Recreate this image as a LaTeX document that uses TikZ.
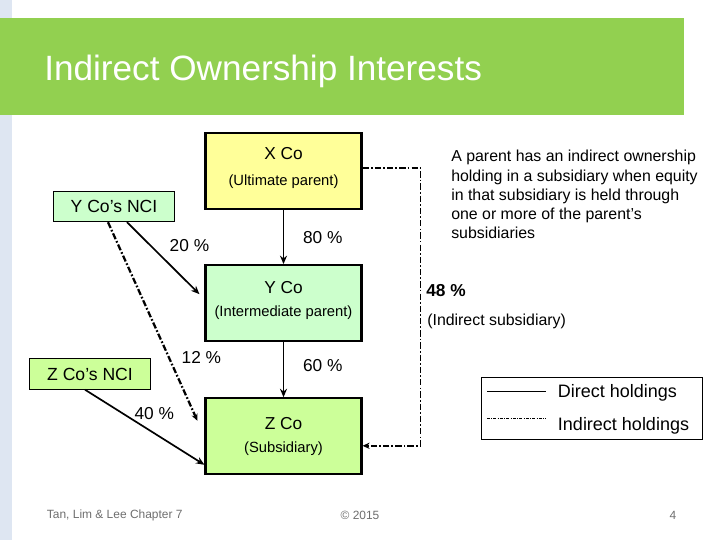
\documentclass[tikz,border=0pt]{standalone}
\usepackage{fontspec}
\setmainfont{Liberation Sans}
\usetikzlibrary{arrows.meta, positioning, calc}
\definecolor{banner}{RGB}{146,208,80}
\definecolor{sidebar}{RGB}{222,230,242}
\definecolor{myyellow}{RGB}{255,255,153}
\definecolor{mymint}{RGB}{204,255,204}
\definecolor{mylime}{RGB}{204,255,153}
\definecolor{footgray}{RGB}{110,110,110}
\tikzset{
  cobox/.style={rectangle, draw=black, line width=1.5pt,
    minimum width=3.9cm, minimum height=1.9cm, inner sep=0pt},
  ncibox/.style={rectangle, draw=black, line width=0.7pt,
    minimum width=3cm, minimum height=0.76cm, inner sep=0pt,
    font=\fontsize{12.5}{15}\selectfont},
  cotitle/.style={font=\fontsize{12.3}{15}\selectfont},
  cosub/.style={font=\fontsize{10.5}{13}\selectfont},
  pct/.style={font=\fontsize{12.3}{15}\selectfont},
  legtext/.style={font=\fontsize{12.8}{15}\selectfont, anchor=west},
  holding/.style={-{Stealth[length=6pt, width=5pt]}, line width=1.2pt},
  indirect/.style={-{Stealth[length=5pt, width=4.5pt]}, line width=1.3pt,
    dash pattern=on 4.5pt off 1.5pt on 1.2pt off 1.5pt},
  legline/.style={line width=0.5pt},
  footer/.style={font=\fontsize{8.5}{10}\selectfont, text=footgray}
}

\begin{document}
\begin{tikzpicture}[x=0.025cm, y=-0.025cm]
  \useasboundingbox (0,0) rectangle (720,540);
  % slide background
  \fill[sidebar] (0,0) rectangle (12,540);
  \fill[banner] (0,18) rectangle (684,115);
  \node[anchor=base west, text=white, font=\fontsize{25}{30}\selectfont, inner sep=0pt] (title) at (44,80) {Indirect Ownership Interests};

  % companies
  \node [cobox, fill=myyellow] (xco) at (283.5,171) {};
  \node [cobox, fill=mymint, below=1.35cm of xco] (yco) {};
  \node [cobox, fill=mylime, below=1.375cm of yco] (zco) {};
  \node [cotitle] (xco-name) at ($(xco.north)+(0,22)$) {X Co};
  \node [cosub] (xco-role) at ($(xco.north)+(0,50)$) {(Ultimate parent)};
  \node [cotitle] (yco-name) at ($(yco.north)+(0,23)$) {Y Co};
  \node [cosub] (yco-role) at ($(yco.north)+(0,49)$) {(Intermediate parent)};
  \node [cotitle] (zco-name) at ($(zco.north)+(0,26)$) {Z Co};
  \node [cosub] (zco-role) at ($(zco.north)+(0,51)$) {(Subsidiary)};

  \node [ncibox, fill=mymint] (ynci) at (114,206.5) {Y Co's NCI};
  \node [ncibox, fill=mylime] (znci) at (90,374) {Z Co's NCI};

  % direct holdings
  \draw [holding] (xco) -- node[pct, midway, right=10pt] (p80) {80 \%} (yco);
  \draw [holding] (yco) -- node[pct, pos=0.42, right=10pt] (p60) {60 \%} (zco);
  \draw [holding] ($(ynci.south)+(13,0)$) -- node[pct, midway, above right=1pt] (p20) {20 \%} ($(yco.west)+(-5,-9)$);
  \draw [holding] ($(znci.south)+(-5,0)$) -- node[pct, pos=0.58, above=6pt] (p40) {40 \%} ($(zco.west)+(0,28.5)$);

  % indirect holdings
  \draw [indirect, line width=1.6pt] ($(ynci.south)+(-6,0)$) -- node[pct, pos=0.68, right=5pt] (p12) {12 \%} ($(zco.west)+(-7,-15.5)$);
  \draw [indirect] ($(xco.east)+(0,-3)$) -- ++(58,0) |- ($(zco.east)+(0,9.5)$);

  \node [anchor=base west, inner sep=0pt, font=\bfseries\fontsize{12.3}{15}\selectfont] (p48) at (426,296) {48 \%};
  \node [anchor=base west, inner sep=0pt, font=\fontsize{11.3}{14}\selectfont] (zco-ind) at (427,325) {(Indirect subsidiary)};

  \node [anchor=north west, inner sep=0pt, align=left, font=\fontsize{11.3}{13.7}\selectfont] (note) at (451,150)
    {A parent has an indirect ownership\\holding in a subsidiary when equity\\in that subsidiary is held through\\one or more of the parent's\\subsidiaries};

  % legend
  \node [draw=black, line width=0.6pt, minimum width=5.52cm, minimum height=1.57cm, inner sep=0pt] (legend) at (591.5,408.5) {};
  \coordinate (dirA) at (487,391);
  \coordinate (dirB) at (546,391);
  \coordinate (indA) at (487,418);
  \coordinate (indB) at (546,418);
  \draw [legline] (dirA) -- (dirB);
  \draw [legline, dash pattern=on 2pt off 1pt on 0.6pt off 1pt] (indA) -- (indB);
  \node [legtext] (dirtxt) at (553,393) {Direct holdings};
  \node [legtext] (indtxt) at (553,426) {Indirect holdings};

  % footer
  \node [footer, anchor=west] (foot-l) at (42,515) {Tan, Lim \& Lee Chapter 7};
  \node [footer] (foot-c) at (360,515) {© 2015};
  \node [footer] (foot-r) at (673,515) {4};
\end{tikzpicture}
\end{document}
